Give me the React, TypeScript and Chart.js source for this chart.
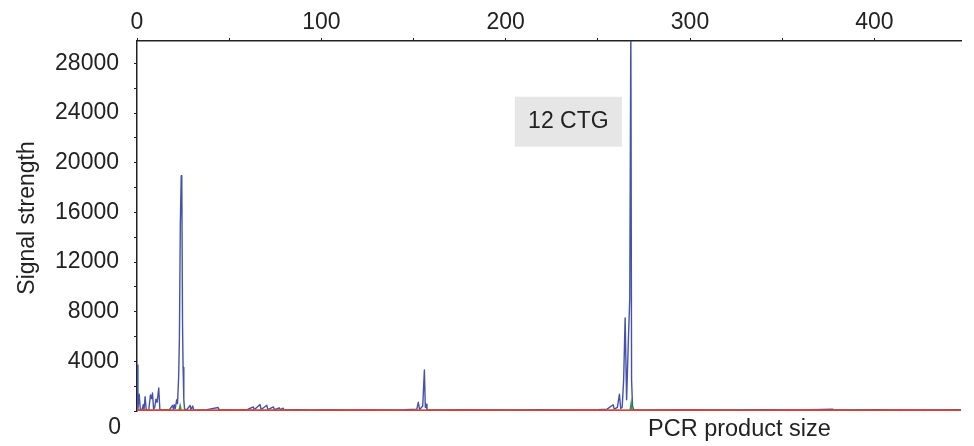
import { useEffect, useRef } from "react";
import { Chart, registerables } from "chart.js";

Chart.register(...registerables);

// ---- data -----------------------------------------------------------------
const sizeMin = 0;
const sizeMax = 447;
const signalMax = 29800;

const xTickValues = [0, 50, 100, 150, 200, 250, 300, 350, 400];
const xTickLabels = [0, 100, 200, 300, 400];
const yTickValues = [0, 2000, 4000, 6000, 8000, 10000, 12000, 14000, 16000, 18000, 20000, 22000, 24000, 26000, 28000];
const yTickLabels = [4000, 8000, 12000, 16000, 20000, 24000, 28000];
const originLabel = "0";

const yTitle = "Signal strength";
const xTitle = "PCR product size";
const peakLabel = "12 CTG";
const peakLabelSize = 234; // bp, centre of label box
const peakLabelSignal = 23300; // signal, centre of label box

// blue trace
const blueSize = [
  0, 0.5, 1.2, 1.8, 2.8, 3.4, 3.8, 4.4, 5.0, 6.4, 7.3, 7.9, 8.4, 9.0, 9.6, 10.3, 10.9, 11.8, 12.4,
  14, 16, 17.5, 19.3, 19.8, 20.2, 20.8, 21.5, 22.0, 22.6, 23.0, 23.5, 24.0, 24.3, 24.7, 25.0, 25.4, 25.8,
  27, 28.8, 29.3, 30.2, 30.7, 34, 38, 44, 44.6, 50, 55, 60, 63.1, 63.6, 66.7, 67.4, 70.4, 71, 74, 74.6,
  77.2, 77.8, 79.2, 79.8, 85, 95, 105, 115, 125, 135, 145, 151.8, 152.6, 153.3, 155.0, 155.9, 156.4,
  156.8, 157.3, 165, 180, 200, 220, 240, 250, 255, 258.3, 258.9, 260.6, 261.7, 262.4, 263.2, 264.0,
  264.8, 265.6, 266.6, 267.3, 267.9, 268.3, 268.8, 269.5, 280, 300, 320, 340, 360, 377.3, 378, 400,
  420, 447,
];
const blueSignal = [
  3700, 150, 1350, 120, 120, 500, 100, 1150, 120, 100, 1300, 1000, 1450, 150, 300, 950, 700, 1850, 120,
  90, 110, 80, 450, 100, 500, 200, 900, 600, 2800, 5800, 15000, 18950, 18600, 7000, 3500, 900, 150,
  100, 450, 100, 400, 100, 90, 110, 280, 90, 100, 80, 120, 330, 100, 520, 120, 460, 110, 330, 100,
  260, 90, 230, 90, 100, 80, 110, 90, 100, 80, 100, 150, 700, 120, 400, 3300, 300,
  550, 100, 90, 100, 80, 100, 90, 110, 150, 500, 150, 300, 1350, 200, 300, 2500,
  7500, 900, 5900, 9000, 31000, 2500, 400, 100, 90, 100, 80, 100, 90, 150, 90, 100,
  80, 100,
];

// green trace
const greenSize = [0, 22.8, 23.4, 24.0, 267.5, 268.1, 268.6, 447];
const greenSignal = [40, 40, 450, 40, 40, 650, 40, 40];

// red trace
const redSize = [0, 30, 60, 90, 120, 150, 180, 210, 240, 270, 300, 330, 360, 390, 420, 447];
const redSignal = [60, 50, 70, 50, 60, 50, 70, 50, 60, 50, 70, 50, 60, 50, 60, 50];

// ---- styling --------------------------------------------------------------
const FONT = '"Liberation Sans", Arial, sans-serif';
const TEXT = "#222222";

const toPoints = (xs: number[], ys: number[]) => xs.map((x, i) => ({ x, y: ys[i] }));

const textPlugin = {
  id: "textPlugin",
  afterDraw(chart: any) {
    const { ctx, scales } = chart;
    ctx.save();
    ctx.fillStyle = TEXT;

    // y-axis title
    ctx.save();
    ctx.font = `23px ${FONT}`;
    ctx.translate(34, 218);
    ctx.rotate(-Math.PI / 2);
    ctx.textAlign = "center";
    ctx.textBaseline = "alphabetic";
    ctx.fillText(yTitle, 0, 0);
    ctx.restore();

    // x-axis title
    ctx.font = `23.5px ${FONT}`;
    ctx.textAlign = "left";
    ctx.textBaseline = "alphabetic";
    ctx.fillText(xTitle, 648, 436);

    // origin label
    ctx.font = `23px ${FONT}`;
    ctx.textAlign = "right";
    ctx.fillText(originLabel, 121, 434);

    // peak label box
    const cx = scales.x.getPixelForValue(peakLabelSize);
    const cy = scales.y.getPixelForValue(peakLabelSignal);
    const w = 107;
    const h = 50;
    ctx.fillStyle = "#e6e6e6";
    ctx.fillRect(cx - w / 2, cy - h / 2, w, h);
    ctx.fillStyle = TEXT;
    ctx.font = `23px ${FONT}`;
    ctx.textAlign = "center";
    ctx.textBaseline = "middle";
    ctx.fillText(peakLabel, cx, cy);
    ctx.restore();
  },
};

export default function App() {
  const ref = useRef<HTMLCanvasElement | null>(null);

  useEffect(() => {
    if (!ref.current) return;
    const chart = new Chart(ref.current, {
      type: "line",
      data: {
        datasets: [
          {
            label: "red",
            data: toPoints(redSize, redSignal),
            borderColor: "#e63c32",
            borderWidth: 2,
            pointRadius: 0,
            tension: 0,
          },
          {
            label: "green",
            data: toPoints(greenSize, greenSignal),
            borderColor: "#2f9a3a",
            borderWidth: 1.5,
            pointRadius: 0,
            tension: 0,
          },
          {
            label: "blue",
            data: toPoints(blueSize, blueSignal),
            borderColor: "#4351b5",
            borderWidth: 1.4,
            borderJoinStyle: "round",
            pointRadius: 0,
            tension: 0,
          },
        ],
      },
      options: {
        animation: false,
        responsive: true,
        maintainAspectRatio: false,
        layout: { padding: { left: 0, top: 0, right: 13, bottom: 35 } },
        plugins: { legend: { display: false }, tooltip: { enabled: false } },
        scales: {
          x: {
            type: "linear",
            position: "top",
            min: sizeMin,
            max: sizeMax,
            afterBuildTicks: (s: any) => {
              s.ticks = xTickValues.map((value) => ({ value }));
            },
            afterFit: (s: any) => {
              s.height = 41;
            },
            grid: { drawOnChartArea: false, drawTicks: true, tickLength: 3, color: TEXT, lineWidth: 1 },
            border: { display: true, color: TEXT, width: 1.5 },
            ticks: {
              autoSkip: false,
              maxRotation: 0,
              padding: 2,
              color: TEXT,
              font: { family: FONT, size: 23 },
              callback: (v: any) => (xTickLabels.includes(Number(v)) ? String(v) : ""),
            },
          },
          y: {
            type: "linear",
            position: "left",
            min: 0,
            max: signalMax,
            afterBuildTicks: (s: any) => {
              s.ticks = yTickValues.map((value) => ({ value }));
            },
            afterFit: (s: any) => {
              s.width = 137;
            },
            grid: { drawOnChartArea: false, drawTicks: true, tickLength: 3, color: TEXT, lineWidth: 1 },
            border: { display: true, color: TEXT, width: 1.5 },
            ticks: {
              autoSkip: false,
              padding: 15,
              color: TEXT,
              font: { family: FONT, size: 23 },
              callback: (v: any) => (yTickLabels.includes(Number(v)) ? String(v) : ""),
            },
          },
        },
      },
      plugins: [textPlugin],
    } as any);
    return () => chart.destroy();
  }, []);

  return (
    <div style={{ position: "fixed", left: 0, top: 0, width: 974, height: 446, background: "#fff" }}>
      <canvas ref={ref} />
    </div>
  );
}
